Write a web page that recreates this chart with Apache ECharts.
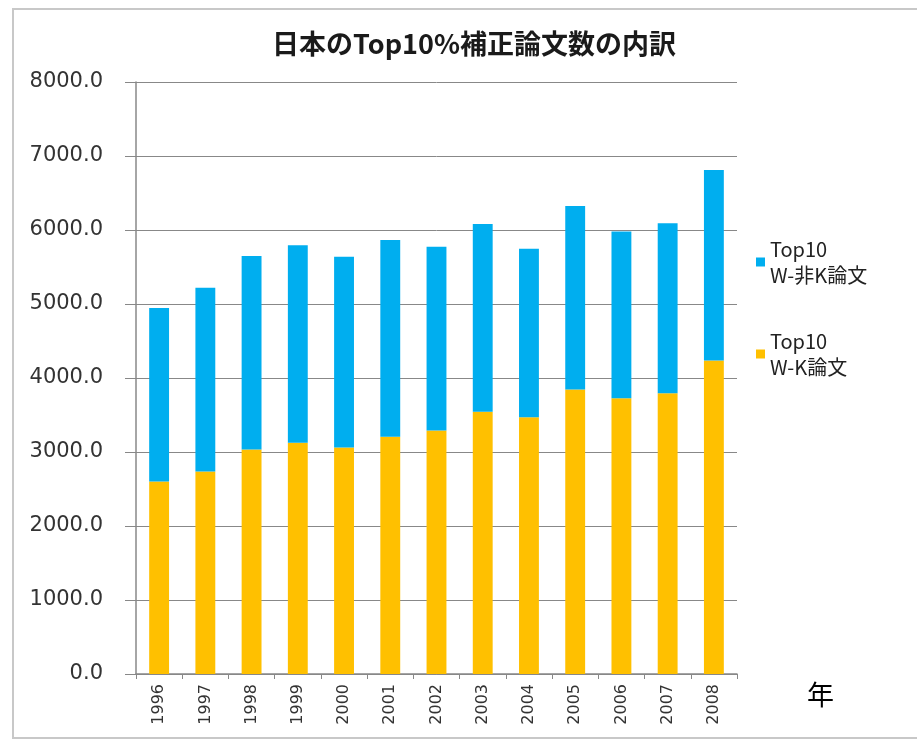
<!DOCTYPE html>
<html>
<head>
<meta charset="utf-8">
<script src="https://cdn.jsdelivr.net/npm/echarts@6/dist/echarts.min.js"></script>
<style>
  html, body { margin: 0; padding: 0; background: #fff; }
  #chart { width: 917px; height: 742px; }
</style>
</head>
<body>
<div id="chart"></div>
<script>
// ============================
// Datos
// ============================
var anios = ["1996", "1997", "1998", "1999", "2000", "2001", "2002", "2003", "2004", "2005", "2006", "2007", "2008"];
var wkData = [2600, 2735, 3035, 3125, 3060, 3205, 3290, 3545, 3470, 3845, 3725, 3795, 4235];
var wNoKData = [2345, 2485, 2615, 2670, 2580, 2660, 2485, 2535, 2275, 2480, 2255, 2295, 2575];
var serieNoK = "Top10\nW-非K論文";
var serieK = "Top10\nW-K論文";

var ff = "'DejaVu Sans', 'Noto Sans CJK JP', sans-serif";

var chart = echarts.init(document.getElementById("chart"));
chart.setOption({
    animation: false,
    backgroundColor: "#fff",
    title: {
        text: "日本のTop10%補正論文数の内訳",
        left: 469,
        top: 25,
        textAlign: "center",
        textStyle: { fontFamily: "'Noto Sans CJK JP', sans-serif", fontSize: 27, fontWeight: "bold", color: "#1a1a1a" }
    },
    legend: {
        orient: "vertical",
        left: 751,
        top: 231,
        itemGap: 40,
        itemWidth: 9,
        itemHeight: 9,
        icon: "rect",
        data: [serieNoK, serieK],
        textStyle: { fontFamily: "'Noto Sans CJK JP', sans-serif", fontSize: 20, color: "#222", lineHeight: 26 }
    },
    grid: { left: 136, right: 180, top: 82, bottom: 68 },
    xAxis: {
        type: "category",
        data: anios,
        axisLine: { lineStyle: { color: "#888", width: 1.5 } },
        axisTick: { show: true, length: 5, lineStyle: { color: "#888" } },
        axisLabel: { rotate: 90, fontFamily: ff, fontSize: 16, color: "#333", margin: 10 }
    },
    yAxis: {
        type: "value",
        min: 0,
        max: 8000,
        interval: 1000,
        axisLine: { show: true, lineStyle: { color: "#888", width: 1.5 } },
        axisTick: { show: true, length: 11, lineStyle: { color: "#888" } },
        splitLine: { lineStyle: { color: "#888", width: 1 } },
        axisLabel: {
            fontFamily: ff, fontSize: 21, color: "#333", margin: 33,
            formatter: v => v.toFixed(1)
        }
    },
    series: [
        { name: serieK, type: "bar", stack: "total", barWidth: "43%", data: wkData, itemStyle: { color: "#ffc000" } },
        { name: serieNoK, type: "bar", stack: "total", barWidth: "43%", data: wNoKData, itemStyle: { color: "#00aeef" } }
    ],
    graphic: [
        {
            type: "rect",
            shape: { x: 13, y: 9, width: 920, height: 729 },
            style: { fill: "none", stroke: "#c8c8c8", lineWidth: 2 },
            silent: true
        },
        {
            type: "text",
            left: 807,
            top: 681,
            style: { text: "年", fontFamily: "'Noto Sans CJK JP', sans-serif", fontSize: 27, fill: "#000" }
        }
    ]
});
</script>
</body>
</html>
